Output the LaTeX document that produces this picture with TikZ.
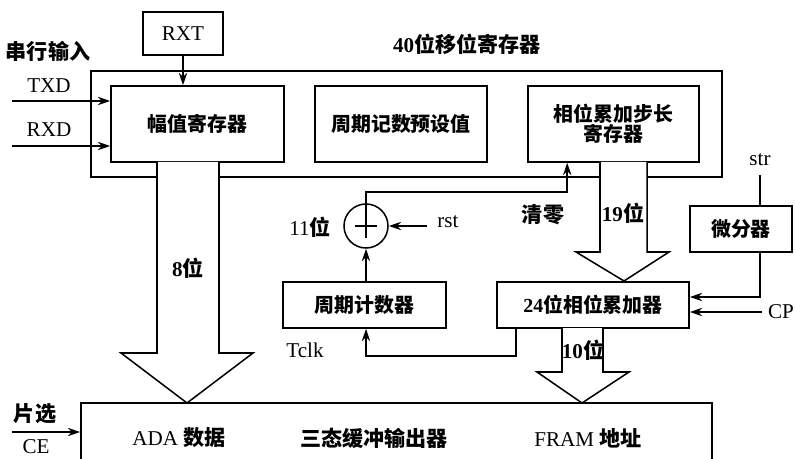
\documentclass[tikz,border=0pt]{standalone}
\usepackage{fontspec}
\setmainfont{Liberation Serif}
\newfontfamily\cjkf{Noto Sans CJK SC}
\newcommand{\zhb}[1]{{\cjkf\bfseries #1}}
\usetikzlibrary{arrows.meta,calc}
\begin{document}
\begin{tikzpicture}[x=0.03cm,y=-0.03cm, line width=1.3pt,
  box/.style={draw, line width=1.3pt, inner sep=0pt, align=center, font=\fontsize{17}{19}\selectfont},
  lbl/.style={inner sep=0pt, font=\fontsize{18}{20}\selectfont},
  arr/.style={-{Stealth[length=10.5pt,width=7pt]}},
  fat/.style={draw, fill=white, line join=miter}]
\clip (0,0) rectangle (795,459);
\fill[white] (0,0) rectangle (795,459);
% boxes
\node[box, minimum width=18.93cm, minimum height=3.18cm] (outer) at (406.5,124) {};
\node[box, minimum width=2.4cm, minimum height=1.29cm] (rxt) at (183,33.5) {\fontsize{18}{20}\selectfont RXT};
\node[box, minimum width=5.19cm, minimum height=2.28cm] (amp) at (197.5,124) {\zhb{幅值寄存器}};
\node[box, minimum width=5.16cm, minimum height=2.28cm] (preset) at (401,124) {\zhb{周期记数预设值}};
\node[box, minimum width=5.13cm, minimum height=2.28cm] (stepreg) at (613.5,124) {\zhb{相位累加步长}\\[-2pt]\zhb{寄存器}};
\node[box, minimum width=4.89cm, minimum height=1.38cm] (pc) at (364.5,305) {\zhb{周期计数器}};
\node[box, minimum width=5.76cm, minimum height=1.38cm] (acc) at (593,305) {\textbf{24}\zhb{位相位累加器}};
\node[box, minimum width=3.06cm, minimum height=1.38cm] (diff) at (741,229) {\zhb{微分器}};
\node[box, minimum width=18.93cm, minimum height=2.31cm] (out) at (396.5,441.5) {};
\node[draw, circle, minimum size=1.32cm, inner sep=0pt] (sum) at (366,226) {};
% fat arrows
\draw[fat] (157,162) -- (157,353) -- (121,353) -- (187,403) -- (253,353) -- (219,353) -- (219,162);
\draw[fat] (600,162) -- (600,252) -- (576,252) -- (624,281) -- (669,252) -- (647,252) -- (647,162);
\draw[fat] (562,328) -- (562,372) -- (537,372) -- (582,403) -- (629,372) -- (603,372) -- (603,328);
% labels
\node[lbl] (serial) at (48,51) {\zhb{串行输入}};
\node[lbl] (title) at (467,44) {\textbf{40}\zhb{位移位寄存器}};
\node[lbl] (txd) at (49,86) {TXD};
\node[lbl] (rxd) at (49,130) {RXD};
\node[lbl] (b8) at (188,268) {\textbf{8}\zhb{位}};
\node[lbl] (b11) at (310,227) {11\zhb{位}};
\node[lbl] (rst) at (448,222) {rst};
\node[lbl] (clr) at (543,215) {\zhb{清零}};
\node[lbl] (b19) at (623,213) {\textbf{19}\zhb{位}};
\node[lbl] (str) at (760,160) {str};
\node[lbl] (tclk) at (305,350) {Tclk};
\node[lbl] (b10) at (583,350) {\textbf{10}\zhb{位}};
\node[lbl] (cp) at (781,312) {CP};
\node[lbl] (cs) at (35,414) {\zhb{片选}};
\node[lbl] (ce) at (36,447) {CE};
\node[lbl] (ada) at (179,438) {ADA \zhb{数据}};
\node[lbl] (tri) at (374,438) {\zhb{三态缓冲输出器}};
\node[lbl] (fram) at (588,438) {FRAM \zhb{地址}};
% coordinates
\coordinate (txdin) at (12,101);
\coordinate (rxdin) at (12,146);
\coordinate (cein) at (12,432);
\coordinate (rstin) at (427,226);
\coordinate (turn) at (366,192);
\coordinate (strtop) at (760,175);
\coordinate (cpin) at (762,312);
% connectors
\draw[arr] (rxt.south) -- (rxt.south |- amp.north);
\draw[arr] (txdin) -- (txdin -| amp.west);
\draw[arr] (rxdin) -- (rxdin -| amp.west);
\draw[arr] (cein) -- (cein -| out.west);
\draw ($(sum.center)+(-11,0)$) -- ($(sum.center)+(11,0)$);
\draw[arr] ($(sum.center)+(0,12)$) -- (turn) -| ($(stepreg.south west)+(40,0)$);
\draw[arr] (rstin) -- (sum.east);
\draw[arr] (pc.north -| sum.south) -- (sum.south);
\draw[arr] ($(acc.south west)+(20,0)$) -- ++(0,27) -| (pc.south -| sum.south);
\draw (strtop) -- (strtop |- diff.north);
\draw[arr] (diff.south -| strtop) |- ($(acc.east)+(0,-8)$);
\draw[arr] (cpin) -- (cpin -| acc.east);
\end{tikzpicture}
\end{document}
